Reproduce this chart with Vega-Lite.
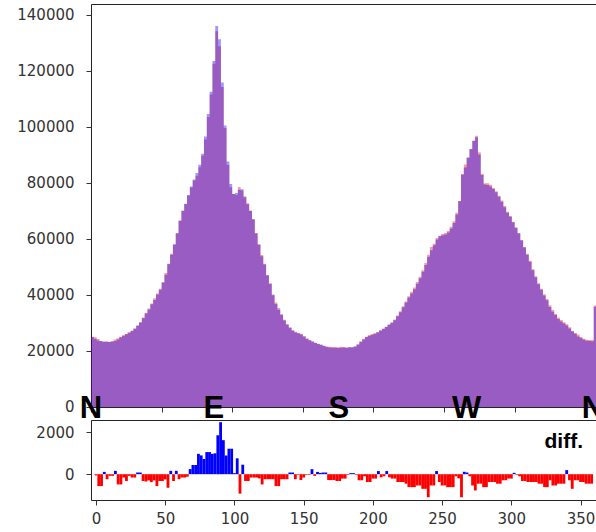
{
"$schema": "https://vega.github.io/schema/vega-lite/v6.json",
"padding": {"left": 16, "top": 3, "right": 0, "bottom": 0},
"background": "white",
"bounds": "flush",
"spacing": 13,
"config": {
  "view": {"stroke": "#222", "strokeWidth": 1},
  "axis": {"grid": false, "domain": false, "tickColor": "#333", "tickSize": 5, "labelFont": "DejaVu Sans", "labelFontSize": 15, "labelColor": "#333", "labelFlush": false}
},
"datasets": {
"lab": [{"t":"N","deg":0},{"t":"E","deg":87},{"t":"S","deg":175.5},{"t":"W","deg":266},{"t":"N","deg":355.5}],
"h": [
{"d":0,"r":25030,"b":24970,"v":-60},
{"d":2,"r":24885,"b":24315,"v":-570},
{"d":4,"r":24285,"b":23715,"v":-570},
{"d":6,"r":23445,"b":23555,"v":110},
{"d":8,"r":23420,"b":23180,"v":-240},
{"d":10,"r":23340,"b":23260,"v":-80},
{"d":12,"r":23240,"b":23160,"v":-80},
{"d":14,"r":23320,"b":23480,"v":160},
{"d":16,"r":24045,"b":23555,"v":-490},
{"d":18,"r":24545,"b":24055,"v":-490},
{"d":20,"r":25080,"b":24920,"v":-160},
{"d":22,"r":25663,"b":25338,"v":-325},
{"d":24,"r":26040,"b":25960,"v":-80},
{"d":26,"r":26680,"b":26520,"v":-160},
{"d":28,"r":27280,"b":27120,"v":-160},
{"d":30,"r":27960,"b":28040,"v":80},
{"d":32,"r":28960,"b":29040,"v":80},
{"d":34,"r":30363,"b":30038,"v":-325},
{"d":36,"r":31975,"b":31625,"v":-350},
{"d":38,"r":33650,"b":33350,"v":-300},
{"d":40,"r":35190,"b":34810,"v":-380},
{"d":42,"r":36950,"b":36650,"v":-300},
{"d":44,"r":38785,"b":38215,"v":-570},
{"d":46,"r":40463,"b":40138,"v":-325},
{"d":48,"r":42163,"b":41838,"v":-325},
{"d":50,"r":44625,"b":44375,"v":-250},
{"d":52,"r":47825,"b":47175,"v":-650},
{"d":54,"r":50920,"b":51080,"v":160},
{"d":56,"r":54663,"b":54338,"v":-325},
{"d":58,"r":57920,"b":58080,"v":160},
{"d":60,"r":62120,"b":61880,"v":-240},
{"d":62,"r":66580,"b":66420,"v":-160},
{"d":64,"r":70080,"b":69920,"v":-160},
{"d":66,"r":72560,"b":72440,"v":-120},
{"d":68,"r":75378,"b":75623,"v":245},
{"d":70,"r":78280,"b":78720,"v":440},
{"d":72,"r":80780,"b":81220,"v":440},
{"d":74,"r":82513,"b":83488,"v":975},
{"d":76,"r":85550,"b":86450,"v":900},
{"d":78,"r":89635,"b":90365,"v":730},
{"d":80,"r":95470,"b":96530,"v":1060},
{"d":82,"r":103470,"b":104530,"v":1060},
{"d":84,"r":111513,"b":112488,"v":975},
{"d":86,"r":122500,"b":123500,"v":1000},
{"d":88,"r":134065,"b":135935,"v":1870},
{"d":90,"r":128755,"b":131245,"v":2490},
{"d":92,"r":114185,"b":115815,"v":1630},
{"d":94,"r":99553,"b":100448,"v":895},
{"d":96,"r":86390,"b":87610,"v":1220},
{"d":98,"r":78390,"b":79610,"v":1220},
{"d":100,"r":75975,"b":76025,"v":50},
{"d":102,"r":75620,"b":76380,"v":760},
{"d":104,"r":78465,"b":77535,"v":-930},
{"d":106,"r":77273,"b":77728,"v":455},
{"d":108,"r":75163,"b":74838,"v":-325},
{"d":110,"r":72663,"b":72338,"v":-325},
{"d":112,"r":70080,"b":69920,"v":-160},
{"d":114,"r":67080,"b":66920,"v":-160},
{"d":116,"r":62080,"b":61920,"v":-160},
{"d":118,"r":58100,"b":57900,"v":-200},
{"d":120,"r":54245,"b":53755,"v":-490},
{"d":122,"r":51120,"b":50880,"v":-240},
{"d":124,"r":47120,"b":46880,"v":-240},
{"d":126,"r":44120,"b":43880,"v":-240},
{"d":128,"r":40120,"b":39880,"v":-240},
{"d":130,"r":37285,"b":36715,"v":-570},
{"d":132,"r":35285,"b":34715,"v":-570},
{"d":134,"r":33120,"b":32880,"v":-240},
{"d":136,"r":31120,"b":30880,"v":-240},
{"d":138,"r":29620,"b":29380,"v":-240},
{"d":140,"r":28260,"b":28340,"v":80},
{"d":142,"r":27260,"b":27340,"v":80},
{"d":144,"r":26820,"b":26580,"v":-240},
{"d":146,"r":26315,"b":26285,"v":-30},
{"d":148,"r":26140,"b":25860,"v":-280},
{"d":150,"r":25280,"b":25120,"v":-160},
{"d":152,"r":24415,"b":24385,"v":-30},
{"d":154,"r":23815,"b":23785,"v":-30},
{"d":156,"r":23180,"b":23420,"v":240},
{"d":158,"r":22940,"b":22860,"v":-80},
{"d":160,"r":22445,"b":22555,"v":110},
{"d":162,"r":22170,"b":22230,"v":60},
{"d":164,"r":21760,"b":21840,"v":80},
{"d":166,"r":21460,"b":21540,"v":80},
{"d":168,"r":21540,"b":21260,"v":-280},
{"d":170,"r":21440,"b":21160,"v":-280},
{"d":172,"r":21440,"b":21160,"v":-280},
{"d":174,"r":21363,"b":21038,"v":-325},
{"d":176,"r":21463,"b":21138,"v":-325},
{"d":178,"r":21405,"b":21195,"v":-210},
{"d":180,"r":21305,"b":21095,"v":-210},
{"d":182,"r":21315,"b":21285,"v":-30},
{"d":184,"r":21275,"b":21325,"v":50},
{"d":186,"r":21575,"b":21625,"v":50},
{"d":188,"r":22315,"b":22285,"v":-30},
{"d":190,"r":23445,"b":23155,"v":-290},
{"d":192,"r":24345,"b":24055,"v":-290},
{"d":194,"r":25050,"b":24950,"v":-100},
{"d":196,"r":25688,"b":25313,"v":-375},
{"d":198,"r":26088,"b":25713,"v":-375},
{"d":200,"r":26305,"b":26095,"v":-210},
{"d":202,"r":26805,"b":26595,"v":-210},
{"d":204,"r":27225,"b":27375,"v":150},
{"d":206,"r":27975,"b":27825,"v":-150},
{"d":208,"r":28650,"b":28550,"v":-100},
{"d":210,"r":29325,"b":29475,"v":150},
{"d":212,"r":30175,"b":30025,"v":-150},
{"d":214,"r":31205,"b":30995,"v":-210},
{"d":216,"r":32605,"b":32395,"v":-210},
{"d":218,"r":34188,"b":33813,"v":-375},
{"d":220,"r":35988,"b":35613,"v":-375},
{"d":222,"r":37688,"b":37313,"v":-375},
{"d":224,"r":39528,"b":39073,"v":-455},
{"d":226,"r":41110,"b":40490,"v":-620},
{"d":228,"r":42610,"b":41990,"v":-620},
{"d":230,"r":44610,"b":43990,"v":-620},
{"d":232,"r":46470,"b":45930,"v":-540},
{"d":234,"r":48770,"b":48230,"v":-540},
{"d":236,"r":51350,"b":50650,"v":-700},
{"d":238,"r":54350,"b":53650,"v":-700},
{"d":240,"r":57053,"b":55948,"v":-1105},
{"d":242,"r":58270,"b":57730,"v":-540},
{"d":244,"r":60270,"b":59730,"v":-540},
{"d":246,"r":60925,"b":61075,"v":150},
{"d":248,"r":61688,"b":61313,"v":-375},
{"d":250,"r":62070,"b":61530,"v":-540},
{"d":252,"r":62770,"b":62230,"v":-540},
{"d":254,"r":64310,"b":63690,"v":-620},
{"d":256,"r":66310,"b":65690,"v":-620},
{"d":258,"r":69310,"b":68690,"v":-620},
{"d":260,"r":73550,"b":73450,"v":-100},
{"d":262,"r":83100,"b":82900,"v":-200},
{"d":264,"r":86553,"b":85448,"v":-1105},
{"d":266,"r":88943,"b":89058,"v":115},
{"d":268,"r":91960,"b":92040,"v":80},
{"d":270,"r":95050,"b":94950,"v":-100},
{"d":272,"r":96770,"b":96230,"v":-540},
{"d":274,"r":90890,"b":90110,"v":-780},
{"d":276,"r":83228,"b":82773,"v":-455},
{"d":278,"r":79828,"b":79373,"v":-455},
{"d":280,"r":79810,"b":79190,"v":-620},
{"d":282,"r":79310,"b":78690,"v":-620},
{"d":284,"r":78188,"b":77813,"v":-375},
{"d":286,"r":76988,"b":76613,"v":-375},
{"d":288,"r":75388,"b":75013,"v":-375},
{"d":290,"r":73728,"b":73273,"v":-455},
{"d":292,"r":71728,"b":71273,"v":-455},
{"d":294,"r":69645,"b":69355,"v":-290},
{"d":296,"r":68145,"b":67855,"v":-290},
{"d":298,"r":66105,"b":65895,"v":-210},
{"d":300,"r":64105,"b":63895,"v":-210},
{"d":302,"r":61968,"b":62033,"v":65},
{"d":304,"r":59515,"b":59485,"v":-30},
{"d":306,"r":57050,"b":56950,"v":-100},
{"d":308,"r":54663,"b":54338,"v":-325},
{"d":310,"r":52163,"b":51838,"v":-325},
{"d":312,"r":49188,"b":48813,"v":-375},
{"d":314,"r":46688,"b":46313,"v":-375},
{"d":316,"r":44188,"b":43813,"v":-375},
{"d":318,"r":42188,"b":41813,"v":-375},
{"d":320,"r":40228,"b":39773,"v":-455},
{"d":322,"r":38528,"b":38073,"v":-455},
{"d":324,"r":36310,"b":35690,"v":-620},
{"d":326,"r":34610,"b":33990,"v":-620},
{"d":328,"r":33145,"b":32855,"v":-290},
{"d":330,"r":31970,"b":31430,"v":-540},
{"d":332,"r":31070,"b":30530,"v":-540},
{"d":334,"r":30228,"b":29773,"v":-455},
{"d":336,"r":29528,"b":29073,"v":-455},
{"d":338,"r":28428,"b":27973,"v":-455},
{"d":340,"r":26903,"b":27098,"v":195},
{"d":342,"r":26445,"b":26155,"v":-290},
{"d":344,"r":25850,"b":25150,"v":-700},
{"d":346,"r":24945,"b":24655,"v":-290},
{"d":348,"r":24345,"b":24055,"v":-290},
{"d":350,"r":23988,"b":23613,"v":-375},
{"d":352,"r":23888,"b":23513,"v":-375},
{"d":354,"r":23928,"b":23473,"v":-455},
{"d":356,"r":36228,"b":35773,"v":-455},
{"d":358,"r":24228,"b":23773,"v":-455}
]
},
"vconcat": [
  {
    "width": 508.4,
    "height": 403,
    "layer": [
      {
        "data": {"name": "h"},
        "mark": {"type": "area", "interpolate": "step-after", "color": "red", "opacity": 0.4},
        "encoding": {
          "x": {"field": "d", "type": "quantitative", "title": null,
                "scale": {"domain": [0, 360], "nice": false, "zero": false},
                "axis": {"values": [0, 50, 100, 150, 200, 250, 300, 350], "labels": false}},
          "y": {"field": "r", "type": "quantitative", "title": null,
                "scale": {"domain": [0, 143800], "nice": false},
                "axis": {"values": [0, 20000, 40000, 60000, 80000, 100000, 120000, 140000], "format": "d", "labelPadding": 12}}
        }
      },
      {
        "data": {"name": "h"},
        "mark": {"type": "area", "interpolate": "step-after", "color": "blue", "opacity": 0.4},
        "encoding": {
          "x": {"field": "d", "type": "quantitative"},
          "y": {"field": "b", "type": "quantitative"}
        }
      },
      {
        "data": {"name": "lab"},
        "mark": {"type": "text", "font": "Liberation Sans", "fontWeight": "bold", "fontSize": 31, "baseline": "alphabetic", "dy": 11, "color": "black"},
        "encoding": {
          "x": {"field": "deg", "type": "quantitative"},
          "y": {"datum": 0},
          "text": {"field": "t"}
        }
      }
    ]
  },
  {
    "width": 508.4,
    "height": 80,
    "layer": [
      {
        "data": {"name": "h"},
        "mark": {"type": "bar", "width": 2.824},
        "encoding": {
          "x": {"field": "d", "type": "quantitative", "title": null,
                "scale": {"domain": [0, 360], "nice": false, "zero": false},
                "axis": {"values": [0, 50, 100, 150, 200, 250, 300, 350], "labelPadding": 7, "labelFlush": false, "labelAlign": "center"}},
          "y": {"field": "v", "type": "quantitative", "title": null,
                "scale": {"domain": [-1236, 2596], "nice": false},
                "axis": {"values": [0, 2000], "format": "d", "labelPadding": 12}},
          "color": {"condition": {"test": "datum.v > 0", "value": "blue"}, "value": "red"}
        }
      },
      {
        "data": {"values": [{}]},
        "mark": {"type": "text", "text": "diff.", "font": "Liberation Sans", "fontWeight": "bold", "fontSize": 21, "align": "left", "baseline": "alphabetic", "color": "black"},
        "encoding": {
          "x": {"datum": 324},
          "y": {"datum": 1270}
        }
      }
    ]
  }
]
}
